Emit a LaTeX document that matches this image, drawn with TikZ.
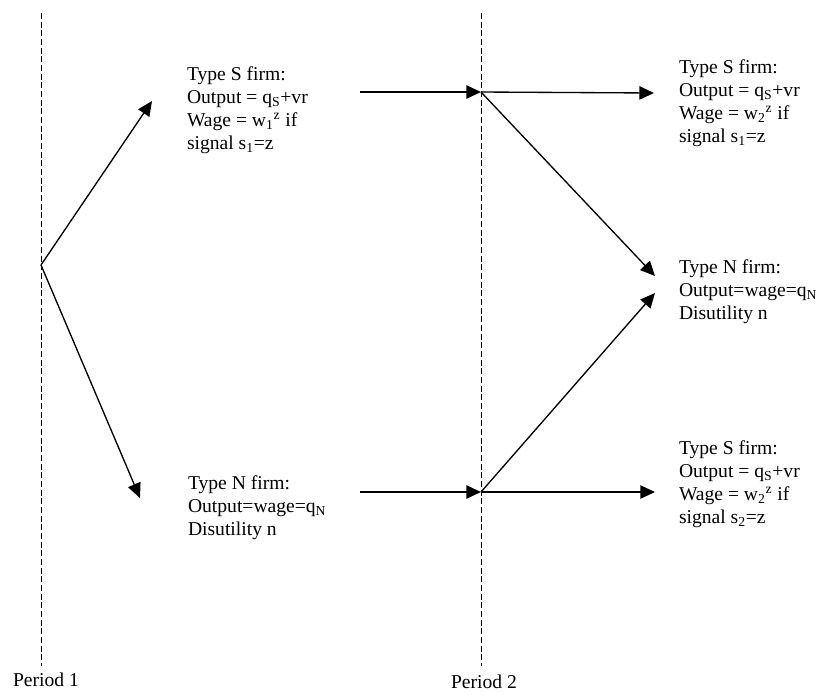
\documentclass[tikz,border=0pt]{standalone}
\usepackage{fontspec}
\setmainfont{Liberation Serif}
\usetikzlibrary{arrows.meta}
\begin{document}
\begin{tikzpicture}[x=0.75pt,y=-0.75pt,
  every node/.style={inner sep=0pt,outer sep=0pt},
  firm/.style={anchor=north west,align=left,font=\fontsize{14.7}{17.25}\selectfont},
  period/.style={anchor=base,font=\fontsize{14.7}{17.25}\selectfont},
  divider/.style={dashed,dash pattern=on 4.5pt off 2pt,line width=0.75pt},
  flow/.style={line width=1pt,-{Triangle[length=11pt,width=10pt]}}]
\useasboundingbox (0,0) rectangle (832,694);
% period dividers
\coordinate (d1top) at (41,13);
\coordinate (d1bot) at (41,666);
\coordinate (d2top) at (481,13);
\coordinate (d2bot) at (481,666);
\draw[divider] (d1top) -- (d1bot);
\draw[divider] (d2top) -- (d2bot);
\node[period] (p1) at (46,686) {Period 1};
\node[period] (p2) at (484,688) {Period 2};
% branch points
\coordinate (root) at (41,265);
\coordinate (jS) at (481,92);
\coordinate (jN) at (481,492);
% period 1 arrow tips
\coordinate (tipS1) at (152,101);
\coordinate (tipN1) at (140,498);
% text blocks
\node[firm] (s1) at (187,67) {Type S firm:\\Output = q\textsubscript{S}+vr\\Wage = w\textsubscript{1}\textsuperscript{z} if\\signal s\textsubscript{1}=z};
\node[firm] (n1) at (188,476) {Type N firm:\\Output=wage=q\textsubscript{N}\\Disutility n};
\node[firm] (s2a) at (679,60) {Type S firm:\\Output = q\textsubscript{S}+vr\\Wage = w\textsubscript{2}\textsuperscript{z} if\\signal s\textsubscript{1}=z};
\node[firm] (n2) at (679,260) {Type N firm:\\Output=wage=q\textsubscript{N}\\Disutility n};
\node[firm] (s2b) at (679,441) {Type S firm:\\Output = q\textsubscript{S}+vr\\Wage = w\textsubscript{2}\textsuperscript{z} if\\signal s\textsubscript{2}=z};
% arrow start/end points
\coordinate (s1out) at (360,92);
\coordinate (n1out) at (360,492);
\coordinate (tipS2a) at (654,93);
\coordinate (tipN2a) at (655,276);
\coordinate (tipN2b) at (655,293);
\coordinate (tipS2b) at (655,492);
% period 1 branches
\draw[flow] (root) -- (tipS1);
\draw[flow] (root) -- (tipN1);
% into period 2
\draw[flow] (s1out) -- (jS);
\draw[flow] (n1out) -- (jN);
% period 2 branches
\draw[flow] (jS) -- (tipS2a);
\draw[flow] (jS) -- (tipN2a);
\draw[flow] (jN) -- (tipN2b);
\draw[flow] (jN) -- (tipS2b);
\end{tikzpicture}
\end{document}
